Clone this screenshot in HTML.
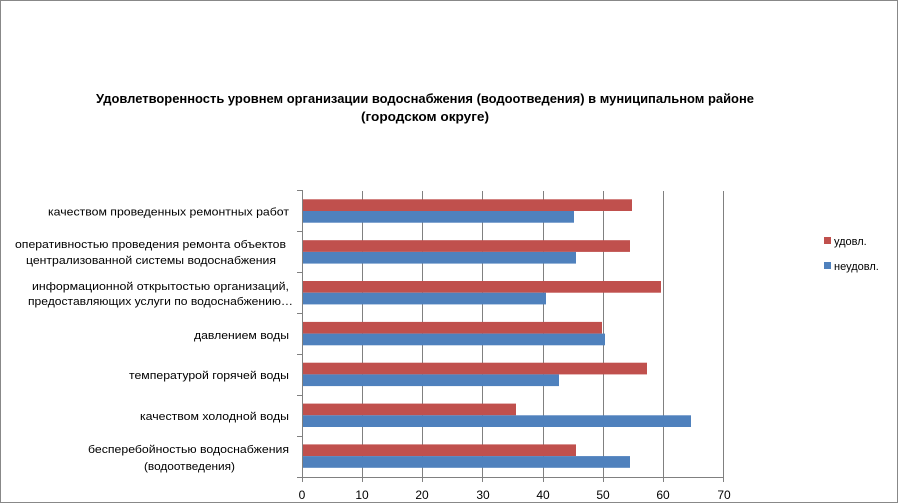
<!DOCTYPE html>
<html><head><meta charset="utf-8"><style>
html,body{margin:0;padding:0;background:#fff}
svg{display:block}
text{font-family:"Liberation Sans",sans-serif}
</style></head><body>
<svg width="899" height="504" viewBox="0 0 899 504" xmlns="http://www.w3.org/2000/svg">
<rect x="0.5" y="0.5" width="897" height="502" fill="#fff" stroke="#888"/>
<g font-weight="bold" font-size="13" fill="#000" text-anchor="middle">
<text x="425" y="103" textLength="658" lengthAdjust="spacingAndGlyphs">Удовлетворенность уровнем организации водоснабжения (водоотведения) в муниципальном районе</text>
<text x="425" y="121" textLength="128" lengthAdjust="spacingAndGlyphs">(городском округе)</text>
</g>
<g stroke="#808080" stroke-width="1">
<line x1="362.5" y1="191" x2="362.5" y2="477"/>
<line x1="422.5" y1="191" x2="422.5" y2="477"/>
<line x1="482.5" y1="191" x2="482.5" y2="477"/>
<line x1="543.5" y1="191" x2="543.5" y2="477"/>
<line x1="603.5" y1="191" x2="603.5" y2="477"/>
<line x1="663.5" y1="191" x2="663.5" y2="477"/>
<line x1="723.5" y1="191" x2="723.5" y2="477"/>
</g>
<g fill="#C0504D">
<rect x="302" y="199.3" width="330" height="11.7"/>
<rect x="302" y="240.2" width="328" height="11.7"/>
<rect x="302" y="281.0" width="359" height="11.7"/>
<rect x="302" y="321.9" width="300" height="11.7"/>
<rect x="302" y="362.7" width="345" height="11.7"/>
<rect x="302" y="403.6" width="214" height="11.7"/>
<rect x="302" y="444.4" width="274" height="11.7"/>
</g>
<g fill="#4F81BD">
<rect x="302" y="211" width="272" height="11.7"/>
<rect x="302" y="251.9" width="274" height="11.7"/>
<rect x="302" y="292.7" width="244" height="11.7"/>
<rect x="302" y="333.6" width="303" height="11.7"/>
<rect x="302" y="374.4" width="257" height="11.7"/>
<rect x="302" y="415.3" width="389" height="11.7"/>
<rect x="302" y="456.1" width="328" height="11.7"/>
</g>
<g stroke="#808080" stroke-width="1">
<line x1="302.5" y1="190" x2="302.5" y2="477"/>
<line x1="297" y1="477.5" x2="724" y2="477.5"/>
<line x1="297" y1="190.5" x2="302" y2="190.5"/>
<line x1="297" y1="231.5" x2="302" y2="231.5"/>
<line x1="297" y1="272.5" x2="302" y2="272.5"/>
<line x1="297" y1="313.5" x2="302" y2="313.5"/>
<line x1="297" y1="354.5" x2="302" y2="354.5"/>
<line x1="297" y1="395.5" x2="302" y2="395.5"/>
<line x1="297" y1="436.5" x2="302" y2="436.5"/>
<line x1="302.5" y1="477" x2="302.5" y2="482"/>
<line x1="362.5" y1="477" x2="362.5" y2="482"/>
<line x1="422.5" y1="477" x2="422.5" y2="482"/>
<line x1="482.5" y1="477" x2="482.5" y2="482"/>
<line x1="543.5" y1="477" x2="543.5" y2="482"/>
<line x1="603.5" y1="477" x2="603.5" y2="482"/>
<line x1="663.5" y1="477" x2="663.5" y2="482"/>
<line x1="723.5" y1="477" x2="723.5" y2="482"/>
</g>
<g font-size="12" fill="#000" text-anchor="middle">
<text x="302" y="499">0</text><text x="362" y="499">10</text><text x="422" y="499">20</text><text x="483" y="499">30</text><text x="543" y="499">40</text><text x="603" y="499">50</text><text x="663" y="499">60</text><text x="724" y="499">70</text>
</g>
<g font-size="11" fill="#000" text-anchor="end">
<text x="289" y="215.5" textLength="241" lengthAdjust="spacingAndGlyphs">качеством проведенных ремонтных работ</text>
<text x="286" y="248" textLength="271" lengthAdjust="spacingAndGlyphs">оперативностью проведения ремонта объектов</text>
<text x="276" y="264" textLength="250" lengthAdjust="spacingAndGlyphs">централизованной системы водоснабжения</text>
<text x="289" y="290" textLength="257" lengthAdjust="spacingAndGlyphs">информационной открытостью организаций,</text>
<text x="293" y="305" textLength="265" lengthAdjust="spacingAndGlyphs">предоставляющих услуги по водоснабжению…</text>
<text x="289" y="339" textLength="95" lengthAdjust="spacingAndGlyphs">давлением воды</text>
<text x="289" y="379" textLength="160" lengthAdjust="spacingAndGlyphs">температурой горячей воды</text>
<text x="289" y="420" textLength="149" lengthAdjust="spacingAndGlyphs">качеством холодной воды</text>
<text x="289" y="453" textLength="201" lengthAdjust="spacingAndGlyphs">бесперебойностью водоснабжения</text>
<text x="235" y="470" textLength="91" lengthAdjust="spacingAndGlyphs">(водоотведения)</text>
</g>
<rect x="824" y="237" width="7" height="7" fill="#C0504D"/>
<rect x="824" y="262" width="7" height="7" fill="#4F81BD"/>
<g font-size="11" fill="#000">
<text x="834" y="245">удовл.</text>
<text x="834" y="270">неудовл.</text>
</g>
</svg>
</body></html>
